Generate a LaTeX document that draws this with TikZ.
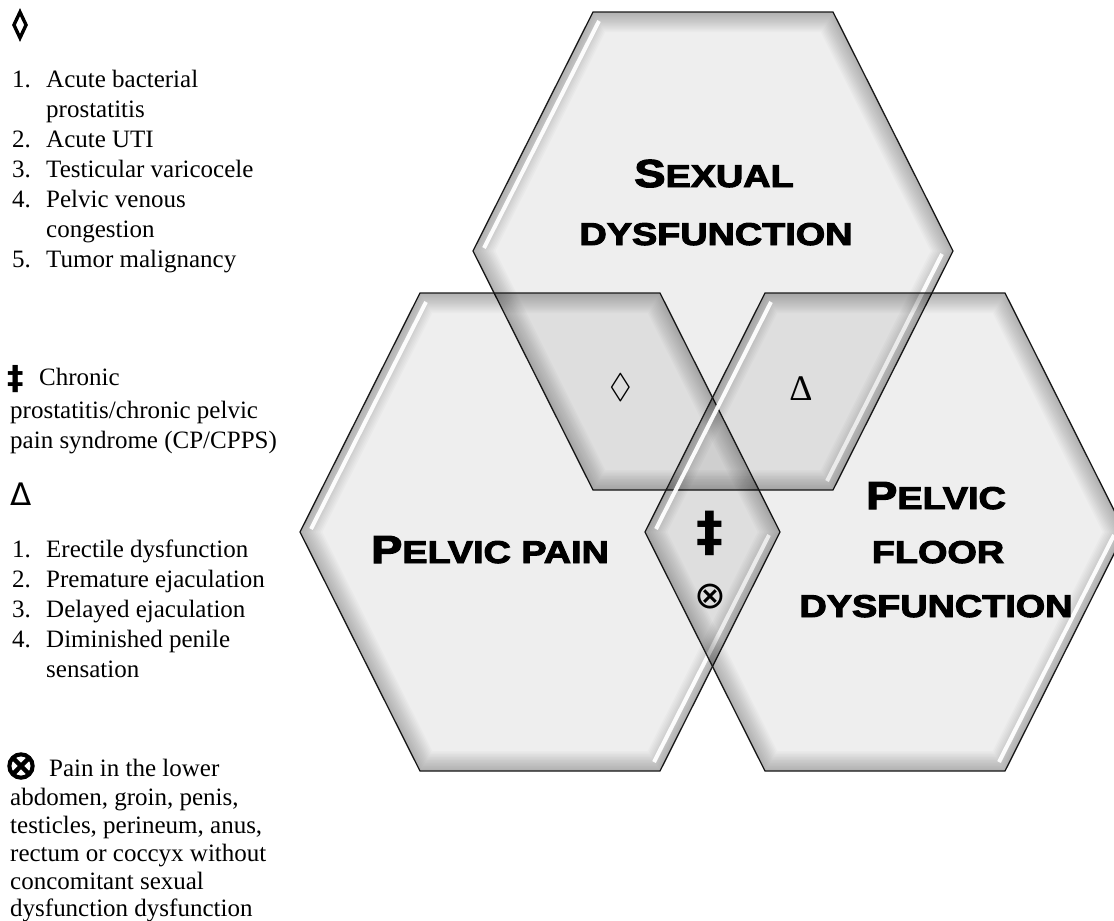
\documentclass[tikz,border=0pt]{standalone}
\usepackage{fontspec}
\usepackage{amssymb}
\usepackage{graphicx}
\setmainfont{Liberation Serif}
\newfontfamily\hexfont[BoldFeatures={FakeBold=3}]{Liberation Sans}
\newfontfamily\dejavu{DejaVu Sans}
\newfontfamily\dejavuheavy[FakeBold=3]{DejaVu Sans}
\newfontfamily\dejavuxheavy[FakeBold=7]{DejaVu Sans}
\newcommand\hexat[2]{(#1-120,#2-239) -- (#1+120,#2-239) -- (#1+240,#2) -- (#1+120,#2+239) -- (#1-120,#2+239) -- (#1-240,#2) -- cycle}
\newcommand\bigsc[1]{{\fontsize{39}{39}\selectfont #1}}
\newcommand\smsc[1]{{\fontsize{31.5}{31.5}\selectfont #1}}
\newcommand\drawhex[2]{%
  \fill[hexfill] \hexat{#1}{#2};
  \begin{scope}
    \clip \hexat{#1}{#2};
    \foreach \w in {40,37,...,1}
      \draw[line width=\w pt, black, opacity=0.018, line join=round] \hexat{#1}{#2};
  \end{scope}
  \draw[shine] (#1-114,#2-230) -- (#1-229,#2-3);
  \draw[shine] (#1+229,#2+3) -- (#1+114,#2+230);
  \draw[hexline] \hexat{#1}{#2};
}
\tikzset{
  hexfill/.style={fill=black, fill opacity=0.065},
  hexline/.style={draw=black!90, line width=1.3pt, line join=miter},
  shine/.style={draw=white, line width=4pt, opacity=0.95, line cap=butt},
  lab/.style={anchor=base, inner sep=0pt, font=\hexfont\bfseries},
  leg/.style={anchor=base west, inner sep=0pt, font=\fontsize{25}{30}\selectfont},
  sym/.style={anchor=center, inner sep=0pt},
}
\begin{document}
\begin{tikzpicture}[x=1pt,y=-1pt]
\useasboundingbox (0,0) rectangle (1114,921);
\fill[white] (0,0) rectangle (1114,921);

% hexagons
\drawhex{713}{251}
\drawhex{540}{532}
\drawhex{885}{532}

% hexagon labels
\node[lab] (sx1) at (714,187) {\scalebox{1.2}[1]{\bigsc{S}\smsc{EXUAL}}};
\node[lab] (sx2) at (716,245) {\scalebox{1.2}[1]{\smsc{DYSFUNCTION}}};
\node[lab] (pp) at (490,563) {\scalebox{1.2}[1]{\bigsc{P}\smsc{ELVIC PAIN}}};
\node[lab] (pf1) at (936,509) {\scalebox{1.2}[1]{\bigsc{P}\smsc{ELVIC}}};
\node[lab] (pf2) at (938,563) {\scalebox{1.2}[1]{\smsc{FLOOR}}};
\node[lab] (pf3) at (936,617) {\scalebox{1.2}[1]{\smsc{DYSFUNCTION}}};

% overlap symbols
\node[sym] (cloz) at (621,388) {\fontsize{34}{34}\selectfont$\lozenge$};
\node[sym] (cdel) at (801,389) {\fontsize{36}{36}\selectfont Δ};
\node[sym] (cdag) at (710,533) {\fontsize{54}{54}\selectfont\dejavu\bfseries ‡};
\node[sym] (cotm) at (710,597) {\fontsize{38}{38}\selectfont\dejavu ⊗};

% legend 1
\node[sym] (lloz) at (20,25) {\fontsize{28}{28}\selectfont\dejavuxheavy ◊};
\node[leg] (a1n) at (12,87) {1.};
\node[leg] (a1) at (46,87) {Acute bacterial};
\node[leg] (a1b) at (46,117) {prostatitis};
\node[leg] (a2n) at (12,147) {2.};
\node[leg] (a2) at (46,147) {Acute UTI};
\node[leg] (a3n) at (12,177) {3.};
\node[leg] (a3) at (46,177) {Testicular varicocele};
\node[leg] (a4n) at (12,207) {4.};
\node[leg] (a4) at (46,207) {Pelvic venous};
\node[leg] (a4b) at (46,237) {congestion};
\node[leg] (a5n) at (12,267) {5.};
\node[leg] (a5) at (46,267) {Tumor malignancy};

% legend 2
\node[sym] (ldag) at (16,379) {\fontsize{33}{33}\selectfont\dejavu\bfseries ‡};
\node[leg] (b1) at (39,385) {Chronic};
\node[leg] (b2) at (10,418) {prostatitis/chronic pelvic};
\node[leg] (b3) at (10,448) {pain syndrome (CP/CPPS)};

% legend 3
\node[sym] (ldel) at (21,494) {\fontsize{31}{31}\selectfont\dejavu Δ};
\node[leg] (c1n) at (12,557) {1.};
\node[leg] (c1) at (46,557) {Erectile dysfunction};
\node[leg] (c2n) at (12,587) {2.};
\node[leg] (c2) at (46,587) {Premature ejaculation};
\node[leg] (c3n) at (12,617) {3.};
\node[leg] (c3) at (46,617) {Delayed ejaculation};
\node[leg] (c4n) at (12,647) {4.};
\node[leg] (c4) at (46,647) {Diminished penile};
\node[leg] (c4b) at (46,677) {sensation};

% legend 4
\node[sym] (lotm) at (21,766) {\fontsize{40}{40}\selectfont\dejavuheavy ⊗};
\node[leg] (d1) at (49,776) {Pain in the lower};
\node[leg] (d2) at (10,805) {abdomen, groin, penis,};
\node[leg] (d3) at (10,833) {testicles, perineum, anus,};
\node[leg] (d4) at (10,861) {rectum or coccyx without};
\node[leg] (d5) at (10,889) {concomitant sexual};
\node[leg] (d6) at (10,916) {dysfunction dysfunction};
\end{tikzpicture}
\end{document}
